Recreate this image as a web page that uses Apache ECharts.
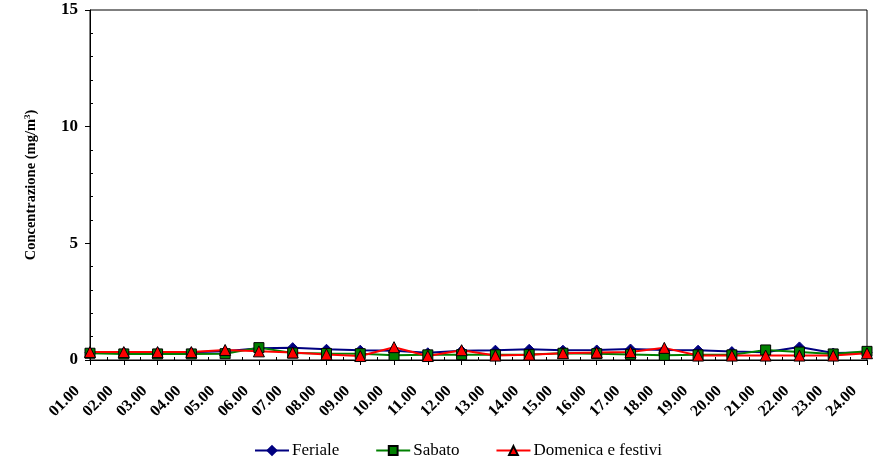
<!DOCTYPE html>
<html>
<head>
<meta charset="utf-8">
<script src="https://cdn.jsdelivr.net/npm/echarts@6/dist/echarts.min.js"></script>
<style>
  html, body { margin: 0; padding: 0; background: #fff; }
  #chart { width: 885px; height: 462px; }
</style>
</head>
<body>
<div id="chart"></div>
<script>
// Hourly profile: concentration by hour of day for three day types
const hours = ['01.00','02.00','03.00','04.00','05.00','06.00','07.00','08.00','09.00','10.00','11.00','12.00',
               '13.00','14.00','15.00','16.00','17.00','18.00','19.00','20.00','21.00','22.00','23.00','24.00'];
const feriale  = [0.33,0.33,0.33,0.33,0.38,0.50,0.53,0.46,0.42,0.40,0.31,0.40,0.42,0.46,0.42,0.43,0.47,0.43,0.42,0.36,0.33,0.56,0.30,0.32];
const sabato   = [0.29,0.26,0.26,0.26,0.27,0.53,0.30,0.28,0.27,0.20,0.22,0.23,0.22,0.24,0.29,0.27,0.24,0.20,0.22,0.22,0.43,0.34,0.26,0.37];
const domenica = [0.34,0.34,0.34,0.34,0.43,0.37,0.32,0.24,0.17,0.55,0.17,0.42,0.19,0.23,0.29,0.32,0.34,0.52,0.19,0.19,0.19,0.19,0.19,0.29];
const yMin = 0, yMax = 15, yStep = 5;

const serif = "'Liberation Serif', 'Times New Roman', serif";
const toPairs = arr => arr.map((v, i) => [i + 1, v]);

const chart = echarts.init(document.getElementById('chart'), null, { renderer: 'canvas' });

chart.setOption({
  animation: false,
  backgroundColor: '#ffffff',
  grid: {
    left: 90, right: 18, top: 10, bottom: 102,
    show: true, borderColor: '#000', borderWidth: 1, backgroundColor: 'transparent'
  },
  legend: {
    left: 249, top: 437,
    itemWidth: 34, itemHeight: 11, itemGap: 36,
    textStyle: { fontFamily: serif, fontSize: 17, color: '#000', padding: [0, 0, 0, -2] },
    data: [
      { name: 'Feriale', lineStyle: { width: 2 } },
      { name: 'Sabato', lineStyle: { width: 2 } },
      { name: 'Domenica e festivi', lineStyle: { width: 2 } }
    ]
  },
  xAxis: {
    type: 'value',
    min: 1, max: 24, interval: 1,
    axisLine: { show: true, lineStyle: { color: '#000', width: 1 } },
    axisTick: { show: true, length: 5, lineStyle: { color: '#000' } },
    minorTick: { show: true, splitNumber: 2, length: -3, lineStyle: { color: '#000' } },
    splitLine: { show: false },
    axisLabel: {
      rotate: 45, margin: 16, fontFamily: serif, fontWeight: 'bold', fontSize: 16, color: '#000',
      padding: [0, 18, 0, 0],
      formatter: v => hours[v - 1] || ''
    }
  },
  yAxis: {
    type: 'value',
    min: yMin, max: yMax, interval: yStep,
    name: 'Concentrazione (mg/m{sup|3})',
    nameLocation: 'middle', nameGap: 51,
    nameTextStyle: {
      fontFamily: serif, fontWeight: 'bold', fontSize: 14.5, color: '#000',
      rich: { sup: { fontFamily: serif, fontWeight: 'bold', fontSize: 9, verticalAlign: 'top', padding: [0, 0, 7, 0] } }
    },
    axisLine: { show: true, lineStyle: { color: '#000', width: 1 } },
    axisTick: { show: true, length: 5, lineStyle: { color: '#000' } },
    minorTick: { show: true, splitNumber: 5, length: -3, lineStyle: { color: '#000' } },
    splitLine: { show: false },
    axisLabel: { margin: 12, fontFamily: serif, fontWeight: 'bold', fontSize: 17, color: '#000' }
  },
  series: [
    {
      name: 'Feriale', type: 'line', data: toPairs(feriale),
      symbol: 'diamond', symbolSize: 10,
      lineStyle: { color: '#000080', width: 2 },
      itemStyle: { color: '#000080', borderColor: '#000080', borderWidth: 1 }
    },
    {
      name: 'Sabato', type: 'line', data: toPairs(sabato),
      symbol: 'rect', symbolSize: 10,
      lineStyle: { color: '#008000', width: 2 },
      itemStyle: { color: '#008000', borderColor: '#000', borderWidth: 1 }
    },
    {
      name: 'Domenica e festivi', type: 'line', data: toPairs(domenica),
      symbol: 'triangle', symbolSize: 11,
      lineStyle: { color: '#ff0000', width: 2 },
      itemStyle: { color: '#ff0000', borderColor: '#000', borderWidth: 1 }
    }
  ]
});
</script>
</body>
</html>
